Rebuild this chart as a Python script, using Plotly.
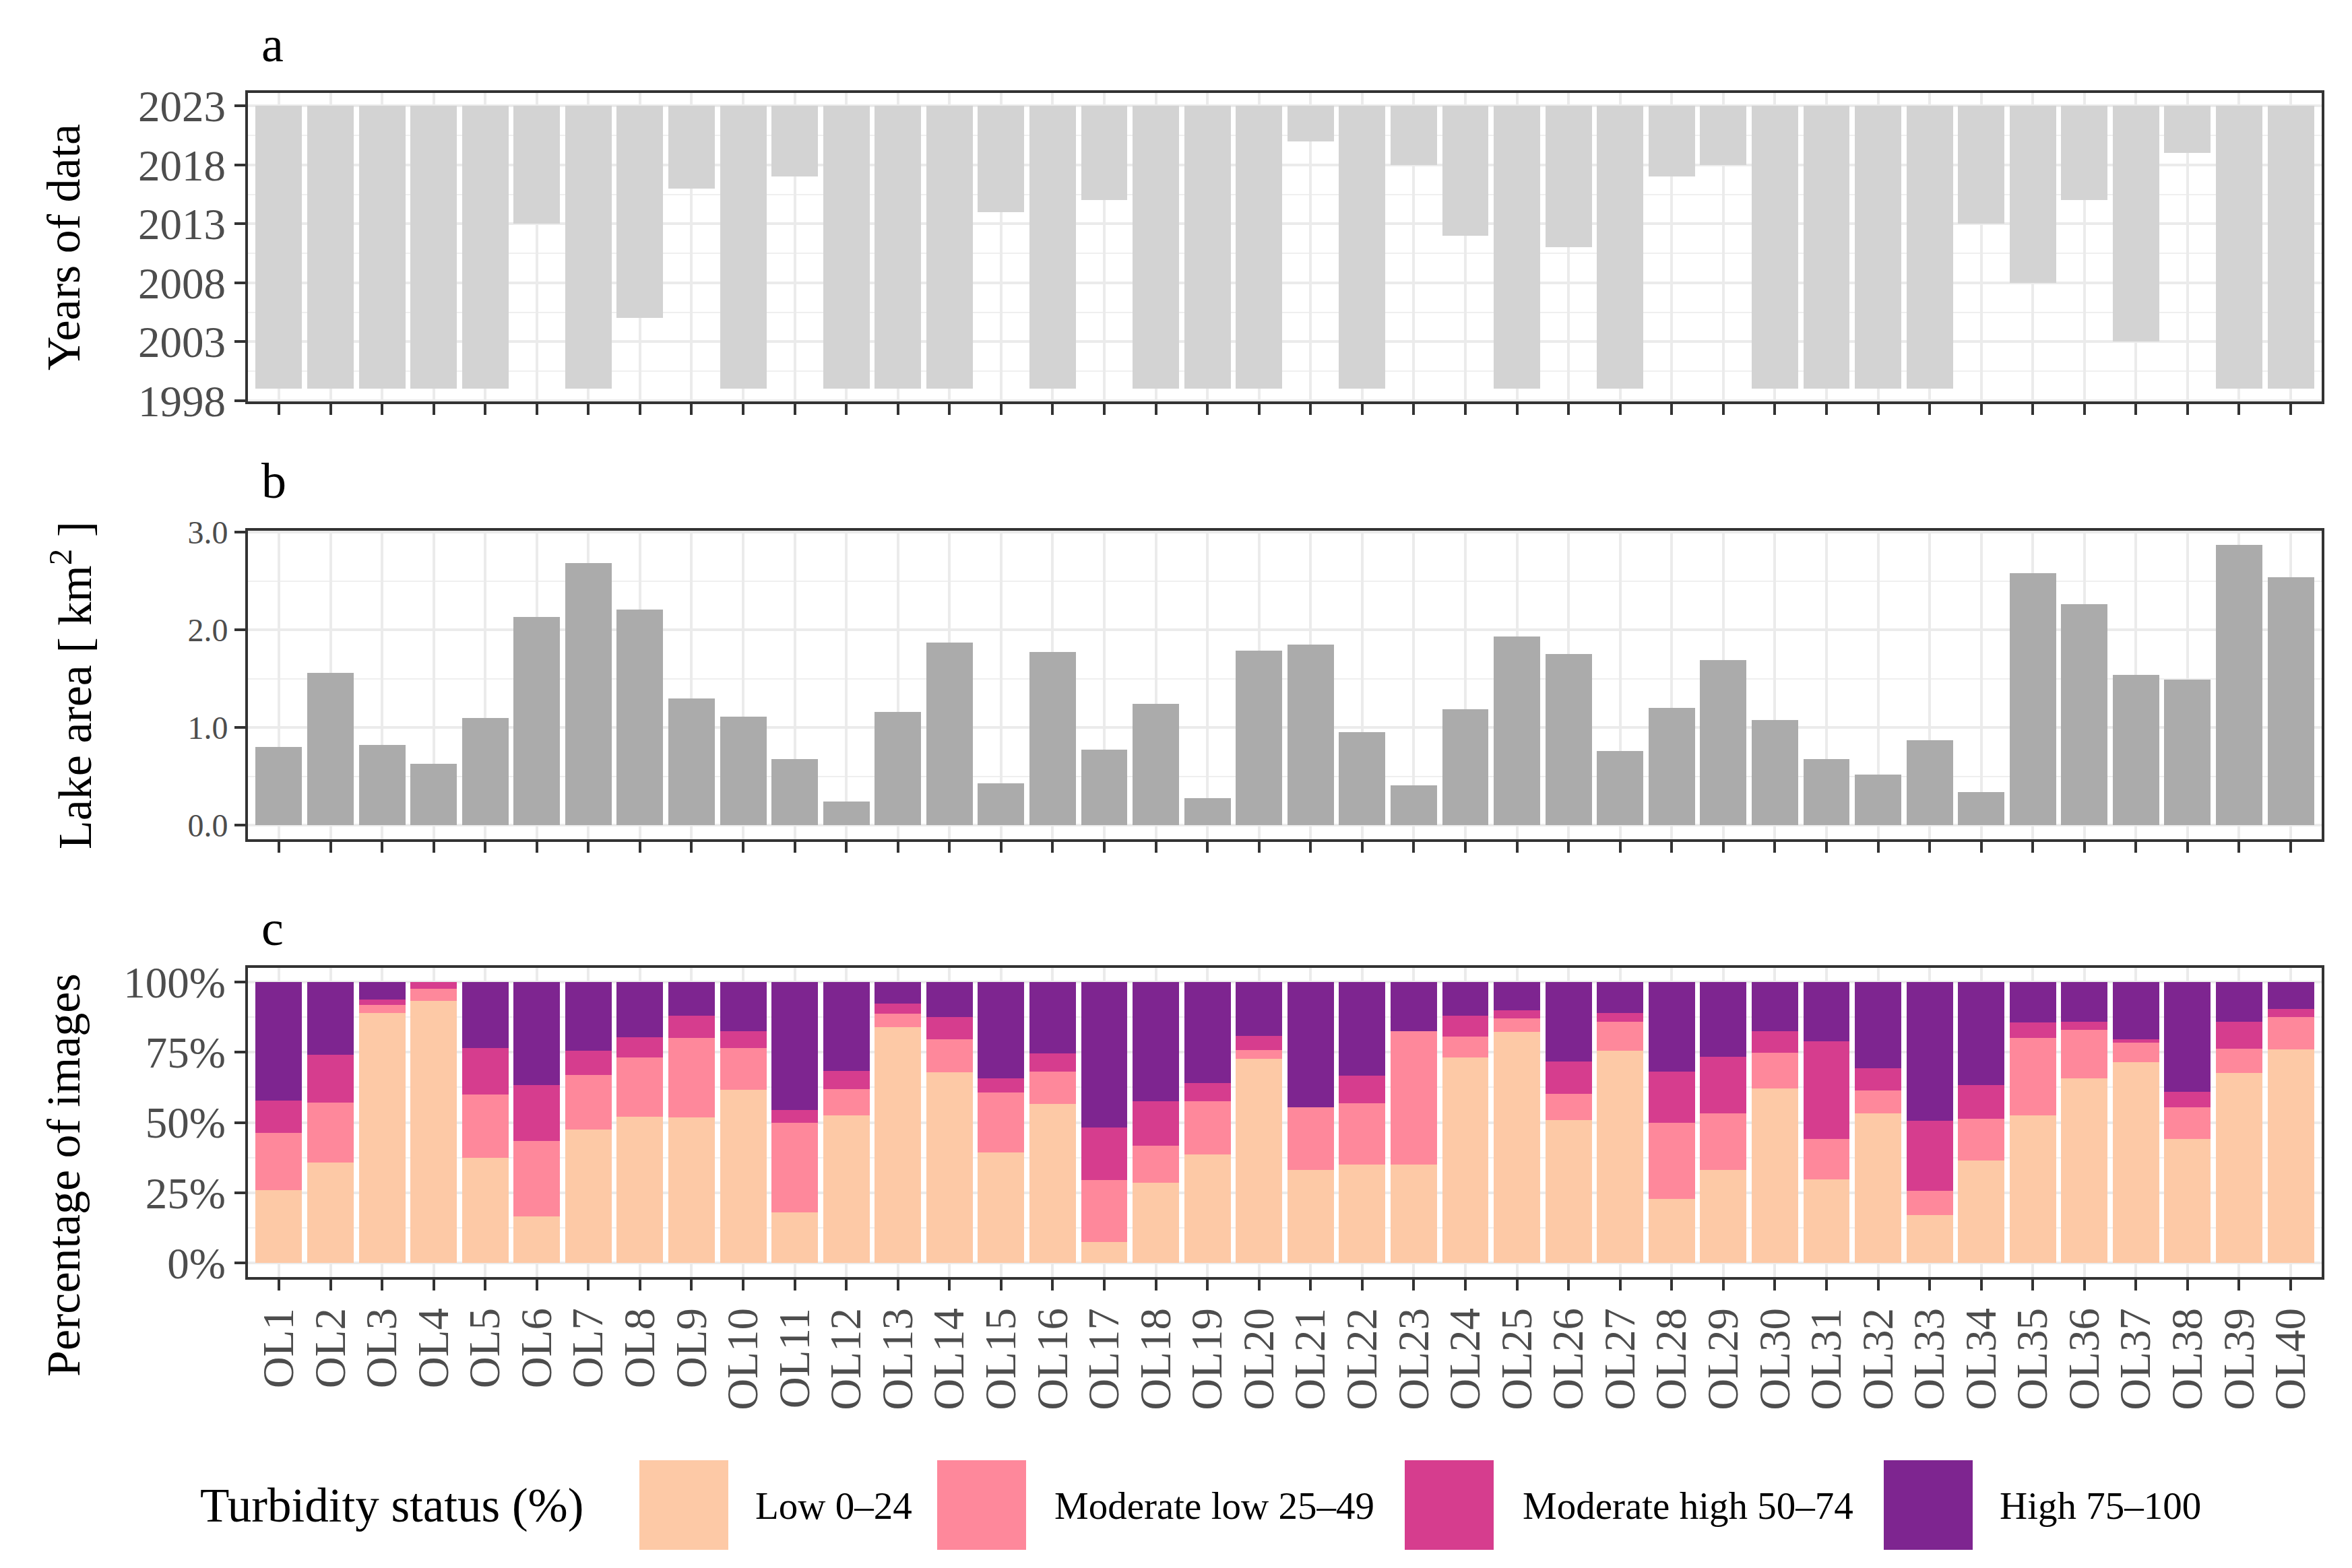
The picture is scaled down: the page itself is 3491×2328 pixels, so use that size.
import plotly.graph_objects as go
from plotly.subplots import make_subplots

lakes = ["OL1", "OL2", "OL3", "OL4", "OL5", "OL6", "OL7", "OL8", "OL9", "OL10",
         "OL11", "OL12", "OL13", "OL14", "OL15", "OL16", "OL17", "OL18", "OL19", "OL20",
         "OL21", "OL22", "OL23", "OL24", "OL25", "OL26", "OL27", "OL28", "OL29", "OL30",
         "OL31", "OL32", "OL33", "OL34", "OL35", "OL36", "OL37", "OL38", "OL39", "OL40"]

# first year with data, all series run to 2023
start_year = [1999, 1999, 1999, 1999, 1999, 2013, 1999, 2005, 2016, 1999,
              2017, 1999, 1999, 1999, 2014, 1999, 2015, 1999, 1999, 1999,
              2020, 1999, 2018, 2012, 1999, 2011, 1999, 2017, 2018, 1999,
              1999, 1999, 1999, 2013, 2008, 2015, 2003, 2019, 1999, 1999]
end_year = [2023] * 40

lake_area = [0.80, 1.56, 0.82, 0.63, 1.10, 2.13, 2.68, 2.21, 1.30, 1.11,
             0.68, 0.24, 1.16, 1.87, 0.43, 1.77, 0.77, 1.24, 0.28, 1.79,
             1.85, 0.95, 0.41, 1.19, 1.93, 1.75, 0.76, 1.20, 1.69, 1.08,
             0.68, 0.52, 0.87, 0.34, 2.58, 2.26, 1.54, 1.49, 2.87, 2.54]

# percentage of images per turbidity class
low = [25.9, 35.8, 88.9, 93.3, 37.4, 16.5, 47.4, 52.1, 51.8, 61.7,
       18.1, 52.6, 83.8, 67.9, 39.3, 56.5, 7.4, 28.5, 38.5, 72.7,
       33.2, 35.1, 35.1, 73.1, 82.2, 50.9, 75.5, 22.7, 33.2, 62.2,
       29.8, 53.3, 17.0, 36.4, 52.6, 65.7, 71.4, 44.1, 67.6, 76.0]
mod_low = [20.3, 21.3, 3.0, 4.3, 22.5, 26.9, 19.6, 21.1, 28.2, 14.9,
           31.9, 9.2, 4.8, 11.7, 21.3, 11.5, 22.2, 13.2, 19.0, 3.1,
           22.3, 21.8, 47.3, 7.4, 4.9, 9.4, 10.4, 27.2, 20.1, 12.7,
           14.3, 8.1, 8.7, 14.9, 27.4, 17.2, 7.1, 11.4, 8.6, 11.5]
mod_high = [11.7, 17.1, 1.9, 2.4, 16.7, 19.9, 8.5, 7.1, 7.9, 5.8,
            4.5, 6.6, 3.8, 7.9, 5.1, 6.6, 18.5, 15.8, 6.6, 5.0,
            0.0, 9.7, 0.0, 7.4, 2.9, 11.4, 3.0, 18.1, 20.1, 7.5,
            34.8, 8.0, 24.8, 12.0, 5.5, 2.9, 1.1, 5.4, 9.6, 2.8]
high = [42.1, 25.8, 6.2, 0.0, 23.4, 36.7, 24.5, 19.7, 12.1, 17.6,
        45.5, 31.6, 7.6, 12.5, 34.3, 25.4, 51.9, 42.5, 35.9, 19.2,
        44.5, 33.4, 17.6, 12.1, 10.0, 28.3, 11.1, 32.0, 26.6, 17.6,
        21.1, 30.6, 49.5, 36.7, 14.5, 14.2, 20.4, 39.1, 14.2, 9.7]

status_names = ["Low 0–24", "Moderate low 25–49", "Moderate high 50–74", "High 75–100"]
status_colors = ["#FDC9A6", "#FE889B", "#D63D8E", "#7E2590"]

W, H = 3491, 2328
L, R, T, B = 360, 3438, 130, 1888
FONT = "Liberation Serif"


def px(x):
    return (x - L) / (R - L)


def py(y):
    return (B - y) / (B - T)


fig = make_subplots(rows=3, cols=1)

fig.add_trace(go.Bar(x=lakes, y=[e - s for s, e in zip(start_year, end_year)], base=start_year,
                     marker_color="#D3D3D3", marker_line_width=0, width=0.9,
                     showlegend=False), row=1, col=1)
fig.add_trace(go.Bar(x=lakes, y=lake_area, marker_color="#ABABAB", marker_line_width=0,
                     width=0.9, showlegend=False), row=2, col=1)
for name, vals, col in zip(status_names, [low, mod_low, mod_high, high], status_colors):
    fig.add_trace(go.Bar(x=lakes, y=vals, name=name, marker_color=col, marker_line_width=0,
                         width=0.9, showlegend=False), row=3, col=1)

axis_common = dict(showline=True, mirror=True, linecolor="#333333", linewidth=4,
                   ticks="outside", ticklen=16, tickwidth=4, tickcolor="#333333",
                   showgrid=True, gridcolor="#EBEBEB", gridwidth=4, zeroline=False,
                   tickfont=dict(family=FONT, size=65, color="#4D4D4D"))

for i in (1, 2, 3):
    fig.update_xaxes(type="category", range=[-0.6, 39.6], tickmode="array",
                     tickvals=lakes, ticktext=lakes, showticklabels=(i == 3),
                     tickangle=-90, row=i, col=1, **axis_common)

minor_grid = dict(showgrid=True, gridcolor="#EFEFEF", gridwidth=2, ticks="")
fig.update_yaxes(range=[1997.93, 2024.1], tick0=1998, dtick=5,
                 minor=dict(tick0=1998, dtick=2.5, **minor_grid), row=1, col=1, **axis_common)
fig.update_yaxes(range=[-0.1435, 3.0135], tick0=0, dtick=1, tickformat=".1f",
                 minor=dict(tick0=0, dtick=0.5, **minor_grid), row=2, col=1,
                 **{**axis_common, "tickfont": dict(family=FONT, size=48, color="#4D4D4D")})
fig.update_yaxes(range=[-5, 105], tick0=0, dtick=25, ticksuffix="%",
                 minor=dict(tick0=0, dtick=12.5, **minor_grid), row=3, col=1, **axis_common)

fig.update_layout(
    yaxis=dict(domain=[py(588), py(130)]),
    yaxis2=dict(domain=[py(1238), py(780)]),
    yaxis3=dict(domain=[py(1888), py(1429)]),
    xaxis=dict(domain=[0, 1]), xaxis2=dict(domain=[0, 1]), xaxis3=dict(domain=[0, 1]),
)

ann = []
# panel letters
for letter, yc in (("a", 58), ("b", 706), ("c", 1370)):
    ann.append(dict(text=letter, x=px(378), y=py(yc), xanchor="left", yanchor="middle",
                    font=dict(family=FONT, size=74, color="black")))
# axis titles
for title, xc, yc in (("Years of data", 86, 359),
                      ("Lake area [ km<sup>2</sup> ]", 98, 1010),
                      ("Percentage of images", 86, 1737)):
    ann.append(dict(text=title, x=px(xc), y=py(yc), xanchor="center", yanchor="middle",
                    textangle=-90, font=dict(family=FONT, size=70, color="black")))

# legend
ann.append(dict(text="Turbidity status (%)", x=px(287), y=py(2227), xanchor="left",
                yanchor="middle", font=dict(family=FONT, size=71, color="black")))
key_left = [941, 1383, 2077, 2788]
label_left = [1111, 1555, 2250, 2958]
shapes = []
for name, col, kx, lx in zip(status_names, status_colors, key_left, label_left):
    shapes.append(dict(type="rect", xref="paper", yref="paper",
                       x0=px(kx), x1=px(kx + 132), y0=py(2293), y1=py(2160),
                       fillcolor=col, line=dict(width=0)))
    ann.append(dict(text=name, x=px(lx), y=py(2227), xanchor="left", yanchor="middle",
                    font=dict(family=FONT, size=57, color="black")))

for a in ann:
    a.update(xref="paper", yref="paper", showarrow=False)

fig.update_layout(
    barmode="stack",
    width=W, height=H,
    margin=dict(l=L, r=W - R, t=T, b=H - B),
    paper_bgcolor="white", plot_bgcolor="white",
    annotations=ann, shapes=shapes,
    showlegend=False,
    font=dict(family=FONT),
)

fig.write_html("out.html")
